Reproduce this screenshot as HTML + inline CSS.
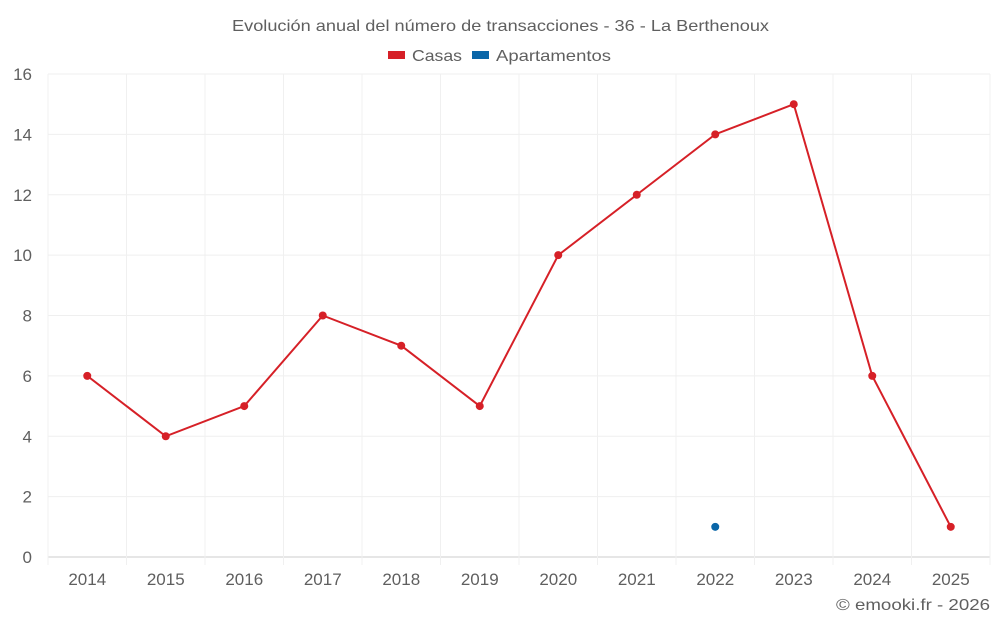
<!DOCTYPE html>
<html><head><meta charset="utf-8">
<style>
body{margin:0;background:#fff;font-family:"Liberation Sans",sans-serif;}
svg text{font-family:"Liberation Sans",sans-serif;fill:#5f5f5f;}
</style></head>
<body>
<svg id="c" width="1000" height="625">
<text x="232" y="31" font-size="16" textLength="537" lengthAdjust="spacingAndGlyphs">Evolución anual del número de transacciones - 36 - La Berthenoux</text>
<g>
<g><rect x="388" y="51" width="17" height="8" fill="#d62027"/><text x="412" y="61" font-size="16" textLength="50" lengthAdjust="spacingAndGlyphs">Casas</text></g>
<g><rect x="472" y="51" width="17" height="8" fill="#0a66a8"/><text x="496" y="61" font-size="16" textLength="115" lengthAdjust="spacingAndGlyphs">Apartamentos</text></g>
</g>
<text x="836" y="610" font-size="16" textLength="154" lengthAdjust="spacingAndGlyphs">© emooki.fr - 2026</text>
<g id="grid"></g>
<g id="axes"></g>
<g id="series"></g>
</svg>
<script>
const categories=["2014","2015","2016","2017","2018","2019","2020","2021","2022","2023","2024","2025"];
const casas=[6,4,5,8,7,5,10,12,14,15,6,1];
const apartamentos=[null,null,null,null,null,null,null,null,1,null,null,null];
const yTicks=[0,2,4,6,8,10,12,14,16];
const L=48,R=990,T=74,B=557,yMax=16;
const bw=(R-L)/categories.length;
const x=i=>L+bw*(i+0.5);
const y=v=>B-(v/yMax)*(B-T);
const NS="http://www.w3.org/2000/svg";
function mk(t,a,p){const e=document.createElementNS(NS,t);for(const k in a)e.setAttribute(k,a[k]);p.appendChild(e);return e;}
const grid=document.getElementById('grid'),axes=document.getElementById('axes'),ser=document.getElementById('series');
yTicks.forEach(v=>{
 const l=mk('line',{x1:L,x2:R,y1:y(v),y2:y(v),stroke:v===0?'#ccc':'#efefef','stroke-width':1},grid);
 
 
 const t=mk('text',{x:32,y:y(v)+6,'text-anchor':'end','font-size':17},axes);
 t.textContent=v;
 
 
});
for(let i=0;i<=categories.length;i++){
 const xx=L+bw*i;
 const l=mk('line',{x1:xx,x2:xx,y1:T,y2:B+8,stroke:'#f0f0f0','stroke-width':1},grid);
 
 
}
categories.forEach((c,i)=>{
 const t=mk('text',{x:x(i),y:585,'text-anchor':'middle','font-size':17},axes);
 t.textContent=c;
 
 
});
const pts=casas.map((v,i)=>x(i)+','+y(v)).join(' ');
const pl=mk('polyline',{points:pts,fill:'none',stroke:'#d62027','stroke-width':2},ser);


casas.forEach((v,i)=>{
 const c=mk('circle',{cx:x(i),cy:y(v),r:4,fill:'#d62027'},ser);
 
 
});
apartamentos.forEach((v,i)=>{
 if(v===null)return;
 const c=mk('circle',{cx:x(i),cy:y(v),r:4,fill:'#0a66a8'},ser);
 
 
});
</script>
</body></html>
